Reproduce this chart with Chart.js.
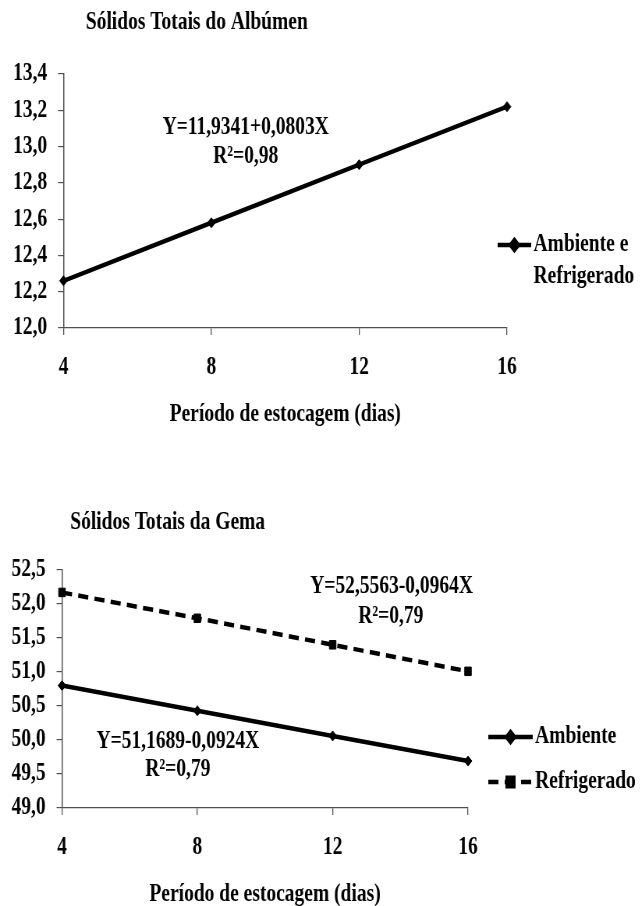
<!DOCTYPE html>
<html><head><meta charset="utf-8">
<script src="https://cdn.jsdelivr.net/npm/chart.js@4"></script>
<style>
html,body{margin:0;padding:0;overflow:hidden;background:#fff;width:640px;height:906px;position:relative}
.wrap{position:absolute;left:0;transform:scaleX(0.78);transform-origin:0 0;}
canvas{display:block}
</style></head><body>
<div class="wrap" style="top:0"><canvas id="c1" width="821" height="450"></canvas></div>
<div class="wrap" style="top:450px"><canvas id="c2" width="821" height="470"></canvas></div>
<script>
// ---- data ----
const dias = [4, 8, 12, 16];
const albumen = [12.26, 12.58, 12.90, 13.22];
const gemaAmbiente = [50.80, 50.43, 50.06, 49.69];
const gemaRefrigerado = [52.17, 51.79, 51.40, 51.01];
const albumenYTicks = [12.0, 12.2, 12.4, 12.6, 12.8, 13.0, 13.2, 13.4];
const gemaYTicks = [49.0, 49.5, 50.0, 50.5, 51.0, 51.5, 52.0, 52.5];
const xTicks = [4, 8, 12, 16];
const xTitle = 'Período de estocagem (dias)';

const FAMILY = '"Liberation Serif", "Times New Roman", serif';
const FONT = {family: FAMILY, size: 25, weight: 'bold'};
const AXIS = '#505050';

function pts(xs, ys) { return xs.map((x, i) => ({x: x, y: ys[i]})); }
function fmt(v) { return v.toFixed(1).replace('.', ','); }

const extras = {
  id: 'extras',
  afterDraw(chart, args, o) {
    const ctx = chart.ctx;
    ctx.save();
    ctx.font = 'bold 25px ' + FAMILY;
    ctx.fillStyle = '#000';
    ctx.textBaseline = 'middle';
    // title
    ctx.textAlign = 'left';
    ctx.fillText(o.title.text, o.title.x, o.title.y);
    // annotations
    ctx.textAlign = 'center';
    (o.notes || []).forEach(n => ctx.fillText(n.text, n.x, n.y));
    // legend
    (o.legend || []).forEach(l => {
      const ds = chart.data.datasets[l.index];
      ctx.save();
      ctx.strokeStyle = ds.borderColor;
      ctx.lineWidth = ds.borderWidth;
      ctx.setLineDash(ds.borderDash || []);
      ctx.beginPath();
      ctx.moveTo(l.x1, l.y); ctx.lineTo(l.x2, l.y); ctx.stroke();
      ctx.setLineDash([]);
      ctx.fillStyle = ds.pointBackgroundColor;
      ctx.strokeStyle = ds.pointBorderColor;
      Chart.helpers.drawPoint(ctx, {pointStyle: ds.pointStyle, radius: ds.pointRadius, borderWidth: 1}, (l.x1 + l.x2) / 2, l.y);
      ctx.restore();
      ctx.textAlign = 'left';
      l.text.forEach((t, i) => ctx.fillText(t, l.x2 + 3, l.y + i * 32));
    });
    ctx.restore();
  }
};

function makeOptions(c) {
  return {
    responsive: false,
    animation: false,
    devicePixelRatio: 1,
    layout: {padding: c.pad},
    plugins: {
      legend: {display: false},
      tooltip: {enabled: false},
      extras: c.extras
    },
    scales: {
      x: {
        type: 'linear', min: 4, max: 16,
        afterBuildTicks: s => { s.ticks = xTicks.map(v => ({value: v})); },
        afterFit: s => { s.height = 102; },
        ticks: {font: FONT, color: '#000', padding: 18, callback: v => String(v)},
        grid: {drawOnChartArea: false, drawTicks: true, tickLength: 7, color: AXIS, lineWidth: 1.3},
        border: {display: true, color: AXIS, width: 1.2},
        title: {display: true, text: xTitle, font: FONT, color: '#000', padding: {top: 0, bottom: 0}}
      },
      y: {
        type: 'linear', min: c.yTicks[0], max: c.yTicks[c.yTicks.length - 1],
        afterBuildTicks: s => { s.ticks = c.yTicks.map(v => ({value: v})); },
        afterFit: s => { s.width = c.yWidth; },
        ticks: {font: FONT, color: '#000', padding: 14, callback: v => fmt(v)},
        grid: {drawOnChartArea: false, drawTicks: true, tickLength: 7, color: AXIS, lineWidth: 1.2},
        border: {display: true, color: AXIS, width: 1.5}
      }
    }
  };
}

new Chart(document.getElementById('c1'), {
  type: 'line',
  data: {
    datasets: [{
      label: 'Ambiente e Refrigerado',
      data: pts(dias, albumen),
      borderColor: '#000', borderWidth: 4.5, clip: false,
      pointStyle: 'rectRot', pointRadius: 5, pointBackgroundColor: '#000', pointBorderColor: '#000', pointBorderWidth: 1,
      tension: 0, fill: false
    }]
  },
  options: makeOptions({
    yTicks: albumenYTicks,
    yWidth: 81.4,
    pad: {top: 74, left: 0, right: 171, bottom: 20},
    extras: {
      title: {text: 'Sólidos Totais do Albúmen', x: 110, y: 23},
      notes: [
        {text: 'Y=11,9341+0,0803X', x: 315, y: 128},
        {text: 'R²=0,98', x: 315, y: 157}
      ],
      legend: [{index: 0, x1: 638, x2: 681, y: 245, text: ['Ambiente e', 'Refrigerado']}]
    }
  }),
  plugins: [extras]
});

new Chart(document.getElementById('c2'), {
  type: 'line',
  data: {
    datasets: [{
      label: 'Ambiente',
      data: pts(dias, gemaAmbiente),
      borderColor: '#000', borderWidth: 4.5, clip: false,
      pointStyle: 'rectRot', pointRadius: 5, pointBackgroundColor: '#000', pointBorderColor: '#000', pointBorderWidth: 1,
      tension: 0, fill: false
    }, {
      label: 'Refrigerado',
      data: pts(dias, gemaRefrigerado),
      borderColor: '#000', borderWidth: 4.5, borderDash: [13, 8], clip: false,
      pointStyle: 'rect', pointRadius: 6, pointBackgroundColor: '#000', pointBorderColor: '#000', pointBorderWidth: 1,
      tension: 0, fill: false
    }]
  },
  options: makeOptions({
    yTicks: gemaYTicks,
    yWidth: 79.5,
    pad: {top: 120, left: 0, right: 221, bottom: 10},
    extras: {
      title: {text: 'Sólidos Totais da Gema', x: 90, y: 73},
      notes: [
        {text: 'Y=52,5563-0,0964X', x: 502, y: 137},
        {text: 'R²=0,79', x: 501, y: 167},
        {text: 'Y=51,1689-0,0924X', x: 228, y: 292},
        {text: 'R²=0,79', x: 228, y: 320}
      ],
      legend: [
        {index: 0, x1: 626, x2: 683, y: 287, text: ['Ambiente']},
        {index: 1, x1: 626, x2: 683, y: 332, text: ['Refrigerado']}
      ]
    }
  }),
  plugins: [extras]
});
</script>
</body></html>
